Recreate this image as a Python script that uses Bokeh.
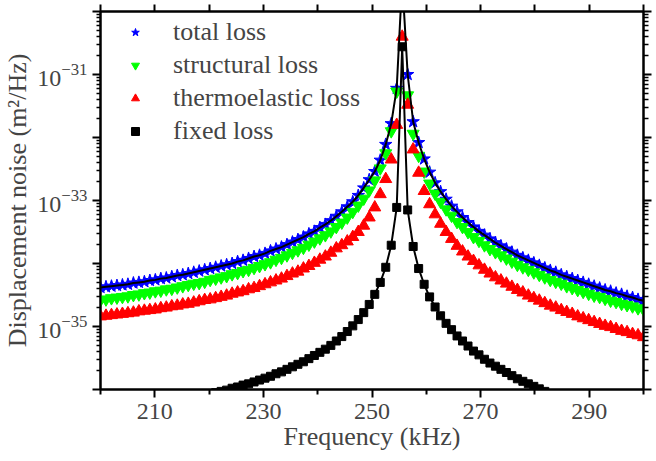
import numpy as np
from bokeh.plotting import figure
from bokeh.models import (ColumnDataSource, FixedTicker, LinearAxis, LogAxis,
                          Legend, LegendItem, LogTickFormatter, CustomLabelingPolicy)
from bokeh.embed import file_html
from bokeh.resources import INLINE

# Frequency grid (kHz)
freq_khz = [200.00, 201.01, 202.02, 203.03, 204.04, 205.05, 206.06, 207.07, 208.08, 209.09,
            210.10, 211.11, 212.12, 213.13, 214.14, 215.15, 216.16, 217.17, 218.18, 219.19,
            220.20, 221.21, 222.22, 223.23, 224.24, 225.25, 226.26, 227.27, 228.28, 229.29,
            230.30, 231.31, 232.32, 233.33, 234.34, 235.35, 236.36, 237.37, 238.38, 239.39,
            240.40, 241.41, 242.42, 243.43, 244.44, 245.45, 246.46, 247.47, 248.48, 249.49,
            250.51, 251.52, 252.53, 253.54, 254.55, 255.56, 256.57, 257.58, 258.59, 259.60,
            260.61, 261.62, 262.63, 263.64, 264.65, 265.66, 266.67, 267.68, 268.69, 269.70,
            270.71, 271.72, 272.73, 273.74, 274.75, 275.76, 276.77, 277.78, 278.79, 279.80,
            280.81, 281.82, 282.83, 283.84, 284.85, 285.86, 286.87, 287.88, 288.89, 289.90,
            290.91, 291.92, 292.93, 293.94, 294.95, 295.96, 296.97, 297.98, 298.99, 300.00]

# log10 of displacement noise (m^2/Hz)
log_total = [-34.38, -34.37, -34.36, -34.35, -34.34, -34.33, -34.31, -34.30, -34.29, -34.27,
             -34.26, -34.24, -34.23, -34.21, -34.19, -34.18, -34.16, -34.14, -34.12, -34.10,
             -34.08, -34.06, -34.04, -34.02, -34.00, -33.97, -33.95, -33.92, -33.89, -33.87,
             -33.84, -33.80, -33.77, -33.74, -33.70, -33.66, -33.62, -33.58, -33.53, -33.49,
             -33.43, -33.38, -33.32, -33.25, -33.18, -33.10, -33.02, -32.92, -32.80, -32.67,
             -32.54, -32.36, -32.11, -31.78, -31.22, -29.50, -31.00, -31.75, -32.08, -32.34,
             -32.55, -32.72, -32.86, -32.98, -33.09, -33.18, -33.27, -33.35, -33.42, -33.49,
             -33.55, -33.61, -33.67, -33.72, -33.77, -33.82, -33.87, -33.91, -33.95, -33.99,
             -34.03, -34.07, -34.11, -34.14, -34.18, -34.21, -34.24, -34.27, -34.30, -34.33,
             -34.36, -34.39, -34.42, -34.44, -34.47, -34.49, -34.52, -34.54, -34.57, -34.59]

log_structural = [-34.58, -34.57, -34.55, -34.54, -34.53, -34.52, -34.50, -34.49, -34.47, -34.46,
                  -34.44, -34.43, -34.41, -34.40, -34.38, -34.36, -34.34, -34.32, -34.31, -34.29,
                  -34.26, -34.24, -34.22, -34.20, -34.17, -34.15, -34.12, -34.10, -34.07, -34.04,
                  -34.01, -33.98, -33.94, -33.91, -33.87, -33.83, -33.79, -33.75, -33.70, -33.65,
                  -33.60, -33.55, -33.49, -33.42, -33.35, -33.27, -33.18, -33.08, -32.97, -32.84,
                  -32.68, -32.49, -32.25, -31.90, -31.27, -29.40, -31.33, -31.94, -32.29, -32.54,
                  -32.73, -32.89, -33.02, -33.14, -33.24, -33.34, -33.42, -33.50, -33.58, -33.64,
                  -33.71, -33.77, -33.82, -33.87, -33.92, -33.97, -34.02, -34.06, -34.10, -34.14,
                  -34.18, -34.22, -34.26, -34.29, -34.32, -34.36, -34.39, -34.42, -34.45, -34.48,
                  -34.51, -34.53, -34.56, -34.59, -34.61, -34.64, -34.66, -34.68, -34.71, -34.73]

log_thermoelastic = [-34.84, -34.83, -34.82, -34.81, -34.80, -34.79, -34.78, -34.76, -34.75, -34.74,
                     -34.73, -34.71, -34.70, -34.68, -34.67, -34.65, -34.64, -34.62, -34.60, -34.58,
                     -34.57, -34.55, -34.53, -34.51, -34.48, -34.46, -34.44, -34.41, -34.39, -34.36,
                     -34.33, -34.30, -34.27, -34.24, -34.20, -34.16, -34.13, -34.08, -34.04, -33.99,
                     -33.94, -33.89, -33.83, -33.76, -33.71, -33.65, -33.58, -33.50, -33.40, -33.27,
                     -33.11, -32.90, -32.66, -32.35, -31.80, -30.40, -31.48, -32.19, -32.56, -32.85,
                     -33.06, -33.22, -33.37, -33.50, -33.61, -33.72, -33.81, -33.89, -33.96, -34.03,
                     -34.10, -34.16, -34.22, -34.27, -34.32, -34.37, -34.42, -34.46, -34.51, -34.55,
                     -34.59, -34.63, -34.67, -34.70, -34.74, -34.77, -34.80, -34.84, -34.87, -34.90,
                     -34.93, -34.96, -34.99, -35.01, -35.04, -35.07, -35.09, -35.12, -35.14, -35.17]

log_fixed = [-36.39, -36.38, -36.36, -36.35, -36.34, -36.33, -36.31, -36.30, -36.28, -36.27,
             -36.25, -36.24, -36.22, -36.21, -36.19, -36.17, -36.15, -36.13, -36.12, -36.10,
             -36.07, -36.05, -36.03, -36.01, -35.98, -35.96, -35.93, -35.91, -35.88, -35.85,
             -35.82, -35.79, -35.75, -35.72, -35.68, -35.64, -35.60, -35.56, -35.51, -35.46,
             -35.41, -35.36, -35.30, -35.23, -35.16, -35.08, -34.99, -34.89, -34.78, -34.65,
             -34.49, -34.30, -34.06, -33.71, -33.11, -30.56, -33.15, -33.73, -34.08, -34.33,
             -34.53, -34.69, -34.83, -34.95, -35.05, -35.15, -35.23, -35.31, -35.39, -35.45,
             -35.52, -35.58, -35.63, -35.68, -35.73, -35.78, -35.83, -35.87, -35.91, -35.95,
             -35.99, -36.03, -36.07, -36.10, -36.13, -36.17, -36.20, -36.23, -36.26, -36.29,
             -36.32, -36.34, -36.37, -36.40, -36.42, -36.45, -36.47, -36.49, -36.52, -36.54]

series_labels = ["total loss", "structural loss", "thermoelastic loss", "fixed loss"]

x_major_ticks = [210, 230, 250, 270, 290]
x_minor_ticks = [200, 220, 240, 260, 280, 300]
x_top_ticks = [200, 210, 220, 230, 240, 250, 260, 270, 280, 290, 300]
y_decades = [1e-36, 1e-35, 1e-34, 1e-33, 1e-32, 1e-31, 1e-30]
y_unlabelled = [1e-36, 1e-34, 1e-32, 1e-30]
y_minor = [k * 10.0 ** e for e in range(-36, -30) for k in range(2, 10)]

FONT = "Liberation Serif"

src = ColumnDataSource(dict(
    f=freq_khz,
    total=10.0 ** np.array(log_total),
    structural=10.0 ** np.array(log_structural),
    thermo=10.0 ** np.array(log_thermoelastic),
    fixed=10.0 ** np.array(log_fixed),
))

p = figure(width=656, height=461, x_range=(200, 300), y_range=(1e-36, 1e-30),
           y_axis_type="log", output_backend="svg", toolbar_location=None,
           min_border_left=100, min_border_right=9, min_border_top=8, min_border_bottom=72)
p.grid.visible = False
p.outline_line_color = "black"
p.outline_line_width = 2
p.background_fill_color = "white"
p.border_fill_color = "white"

r_total = p.scatter("f", "total", source=src, marker="star", size=13,
                    fill_color="#0000ff", line_color="#0000ff")
r_struct = p.scatter("f", "structural", source=src, marker="inverted_triangle", size=12,
                     fill_color="#00ff00", line_color="#00ff00")
r_thermo = p.scatter("f", "thermo", source=src, marker="triangle", size=12,
                     fill_color="#ff0000", line_color="#ff0000")
r_fixed = p.scatter("f", "fixed", source=src, marker="square", size=8,
                    fill_color="black", line_color="black")
p.line("f", "total", source=src, line_color="black", line_width=2)
p.line("f", "fixed", source=src, line_color="black", line_width=2)

hide_all = CustomLabelingPolicy(code="for (const i of indices) { indices.unset(i) }\nreturn indices")

# bottom axis
xax = p.xaxis[0]
xax.ticker = FixedTicker(ticks=x_major_ticks, minor_ticks=x_minor_ticks)
xax.axis_label = "Frequency (kHz)"
xax.axis_label_text_font = FONT
xax.axis_label_text_font_size = "26px"
xax.axis_label_text_font_style = "normal"
xax.axis_label_standoff = 0
xax.major_label_text_font = FONT
xax.major_label_text_font_size = "24px"
xax.major_label_standoff = 6
xax.axis_line_width = 2
xax.major_tick_line_width = 2
xax.minor_tick_line_width = 2
xax.major_tick_out = 8
xax.major_tick_in = 0
xax.minor_tick_out = 5
xax.minor_tick_in = 0

# left axis
yax = p.yaxis[0]
yax.ticker = FixedTicker(ticks=y_decades, minor_ticks=y_minor)
yax.formatter = LogTickFormatter()
yax.major_label_overrides = {v: "" for v in y_unlabelled}
yax.axis_label = "Displacement noise (m\u00b2/Hz)"
yax.axis_label_text_font = FONT
yax.axis_label_text_font_size = "26px"
yax.axis_label_text_font_style = "normal"
yax.axis_label_standoff = 2
yax.major_label_text_font = FONT
yax.major_label_text_font_size = "24px"
yax.major_label_standoff = 5
yax.axis_line_width = 2
yax.major_tick_line_width = 2
yax.minor_tick_line_width = 1.5
yax.major_tick_out = 8
yax.major_tick_in = 0
yax.minor_tick_out = 4
yax.minor_tick_in = 0

# top axis (ticks only)
top = LinearAxis(ticker=FixedTicker(ticks=x_top_ticks), major_label_text_font_size="1px",
                 major_label_policy=hide_all,
                 major_label_standoff=0, major_tick_out=7, major_tick_in=0,
                 minor_tick_out=0, minor_tick_in=0, axis_line_width=2,
                 major_tick_line_width=2)
p.add_layout(top, "above")

# right axis (ticks only)
right = LogAxis(ticker=FixedTicker(ticks=y_decades, minor_ticks=y_minor),
                major_label_text_font_size="1px", major_label_standoff=0,
                major_label_policy=hide_all,
                major_tick_out=8, major_tick_in=0, minor_tick_out=5, minor_tick_in=0,
                axis_line_width=2, major_tick_line_width=2, minor_tick_line_width=1.5)
p.add_layout(right, "right")

legend = Legend(items=[LegendItem(label=series_labels[0], renderers=[r_total]),
                       LegendItem(label=series_labels[1], renderers=[r_struct]),
                       LegendItem(label=series_labels[2], renderers=[r_thermo]),
                       LegendItem(label=series_labels[3], renderers=[r_fixed])],
                location=(25, 243), margin=0, padding=0, spacing=3,
                glyph_width=20, glyph_height=30, label_height=30, label_standoff=28,
                label_text_font=FONT, label_text_font_size="26px",
                border_line_color=None, background_fill_alpha=0)
p.add_layout(legend)

open("out.html", "w").write(file_html(p, INLINE))
